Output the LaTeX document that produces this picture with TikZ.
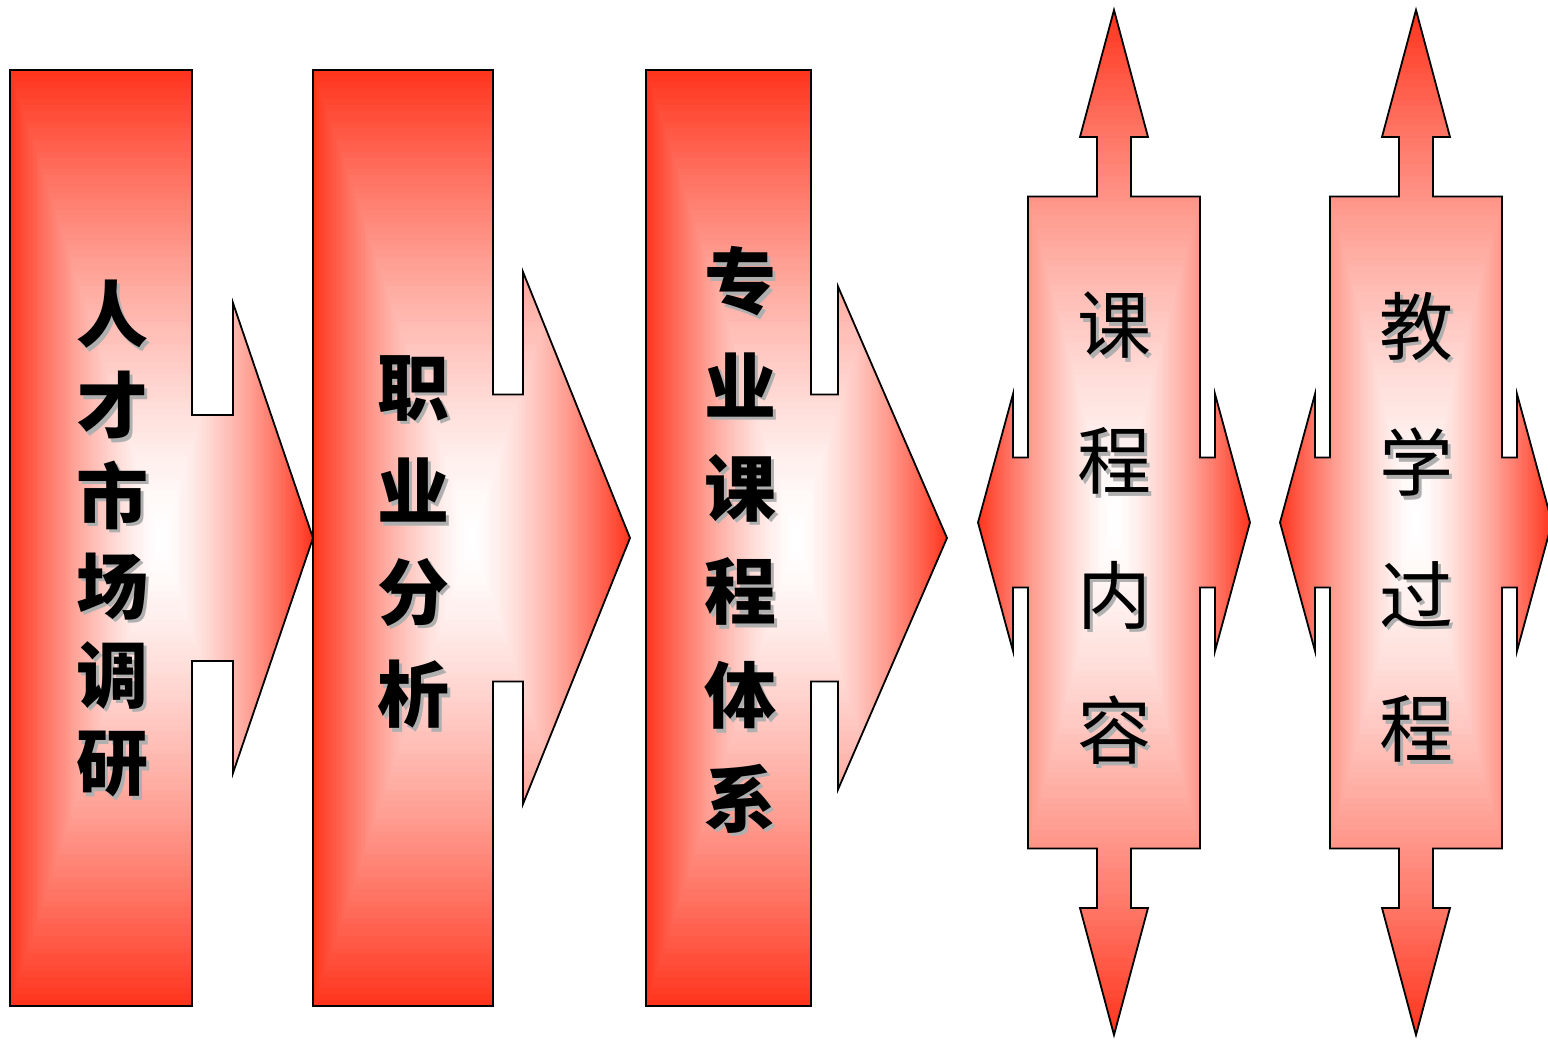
\documentclass[tikz,border=0pt]{standalone}
\usepackage{fontspec}
\newfontfamily\cjk{Noto Sans CJK SC}
\definecolor{gred}{RGB}{255,52,28}
\definecolor{shgray}{RGB}{175,175,175}
\tikzset{
  outline/.style={draw=black,line width=1.8pt,line join=miter},
  kaichar/.style={font=\cjk\bfseries\fontsize{72}{72}\selectfont,inner sep=0pt},
  songchar/.style={font=\cjk\fontsize{74}{74}\selectfont,inner sep=0pt},
}
% rectangular path gradient: centre (#1,#2), half sizes #3,#4
\newcommand\rectgrad[4]{%
  \foreach \i in {0,...,79}{%
    \pgfmathsetmacro\ff{1-\i/80}%
    \pgfmathtruncatemacro\pp{100*(\ff^1.4)}%
    \fill[gred!\pp!white] ({#1-#3*\ff},{#2-#4*\ff}) rectangle ({#1+#3*\ff},{#2+#4*\ff});
  }}
% callout with right arrow: L R N T nh hh
\newcommand\calloutpath[6]{(#1,70) -- (#2,70) -- (#2,{538-#5}) -- (#3,{538-#5}) -- (#3,{538-#6}) -- (#4,538) -- (#3,{538+#6}) -- (#3,{538+#5}) -- (#2,{538+#5}) -- (#2,1006) -- (#1,1006) -- cycle}
% quad arrow centred at (#1,#2)
\newcommand\quadpath[2]{({#1-86},{#2-326}) -- ({#1-17},{#2-326}) -- ({#1-17},{#2-385.5}) -- ({#1-34},{#2-385.5}) -- (#1,{#2-512.5}) -- ({#1+34},{#2-385.5}) -- ({#1+17},{#2-385.5}) -- ({#1+17},{#2-326}) -- ({#1+86},{#2-326}) -- ({#1+86},{#2-65}) -- ({#1+101},{#2-65}) -- ({#1+101},{#2-128.5}) -- ({#1+136},#2) -- ({#1+101},{#2+128.5}) -- ({#1+101},{#2+65}) -- ({#1+86},{#2+65}) -- ({#1+86},{#2+326}) -- ({#1+17},{#2+326}) -- ({#1+17},{#2+385.5}) -- ({#1+34},{#2+385.5}) -- (#1,{#2+512.5}) -- ({#1-34},{#2+385.5}) -- ({#1-17},{#2+385.5}) -- ({#1-17},{#2+326}) -- ({#1-86},{#2+326}) -- ({#1-86},{#2+65}) -- ({#1-101},{#2+65}) -- ({#1-101},{#2+128.5}) -- ({#1-136},#2) -- ({#1-101},{#2-128.5}) -- ({#1-101},{#2-65}) -- ({#1-86},{#2-65}) -- cycle}
% character with drop shadow, in one node
\newcommand\shtext[1]{\rlap{\hspace{3.5pt}\raisebox{-3.5pt}{\textcolor{shgray}{#1}}}#1}
\newcommand\shchar[5]{%
  \node[#1,text=black] (#2) at (#3,#4) {\shtext{#5}};}
\begin{document}
\begin{tikzpicture}[x=1pt,y=-1pt]
\useasboundingbox (0,0) rectangle (1548,1040);
\fill[white] (0,0) rectangle (1548,1040);

% ---- callout 1
\begin{scope}\clip \calloutpath{10}{192}{233}{313}{123}{235}; \rectgrad{161.5}{538}{151.5}{468}\end{scope}
\draw[outline] \calloutpath{10}{192}{233}{313}{123}{235};
% ---- callout 2
\begin{scope}\clip \calloutpath{313}{493}{523}{630}{143.5}{266}; \rectgrad{471.5}{538}{158.5}{468}\end{scope}
\draw[outline] \calloutpath{313}{493}{523}{630}{143.5}{266};
% ---- callout 3
\begin{scope}\clip \calloutpath{646}{811}{838}{947}{143.5}{251.5}; \rectgrad{796.5}{538}{150.5}{468}\end{scope}
\draw[outline] \calloutpath{646}{811}{838}{947}{143.5}{251.5};
% ---- quad arrow 1
\begin{scope}\clip \quadpath{1114}{522.5}; \rectgrad{1114}{522.5}{136}{512.5}\end{scope}
\draw[outline] \quadpath{1114}{522.5};
% ---- quad arrow 2
\begin{scope}\clip \quadpath{1416}{522.5}; \rectgrad{1416}{522.5}{136}{512.5}\end{scope}
\draw[outline] \quadpath{1416}{522.5};

% ---- texts
\shchar{kaichar}{a1}{112}{316}{人}
\shchar{kaichar}{a2}{112}{407}{才}
\shchar{kaichar}{a3}{112}{497}{市}
\shchar{kaichar}{a4}{112}{588}{场}
\shchar{kaichar}{a5}{112}{677}{调}
\shchar{kaichar}{a6}{112}{766}{研}

\shchar{kaichar}{b1}{413}{390}{职}
\shchar{kaichar}{b2}{413}{492}{业}
\shchar{kaichar}{b3}{413}{594}{分}
\shchar{kaichar}{b4}{413}{696}{析}

\shchar{kaichar}{c1}{740}{283}{专}
\shchar{kaichar}{c2}{740}{386.5}{业}
\shchar{kaichar}{c3}{740}{490}{课}
\shchar{kaichar}{c4}{740}{593.5}{程}
\shchar{kaichar}{c5}{740}{697}{体}
\shchar{kaichar}{c6}{740}{800.5}{系}

\shchar{songchar}{d1}{1114}{327}{课}
\shchar{songchar}{d2}{1114}{463}{程}
\shchar{songchar}{d3}{1114}{597}{内}
\shchar{songchar}{d4}{1114}{732}{容}

\shchar{songchar}{e1}{1416}{328}{教}
\shchar{songchar}{e2}{1416}{464}{学}
\shchar{songchar}{e3}{1416}{596}{过}
\shchar{songchar}{e4}{1416}{731}{程}
\end{tikzpicture}
\end{document}
